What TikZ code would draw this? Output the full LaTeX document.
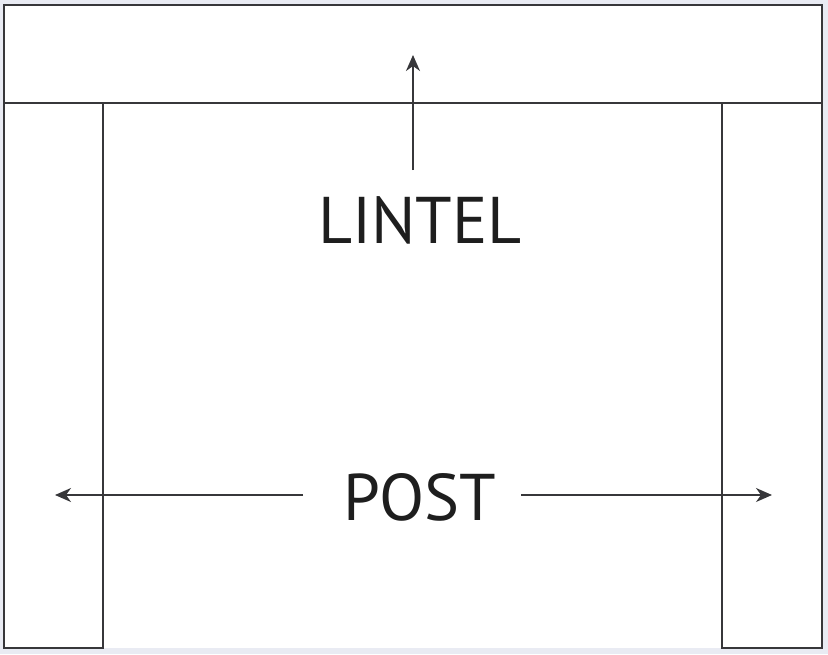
\documentclass[tikz,border=0pt]{standalone}
\usepackage{fontspec}
\setmainfont{PT Sans}
\usetikzlibrary{arrows.meta}
\definecolor{bgc}{RGB}{233,235,243}
\definecolor{linec}{RGB}{55,55,58}
\definecolor{textc}{RGB}{30,30,30}
\tikzset{
  part/.style={draw=linec, line width=1.4pt, fill=white, inner sep=0pt, outer sep=0pt, anchor=north west},
  pointer/.style={draw=linec, line width=1.5pt, arrows={-Stealth[length=16pt, width=14pt, inset=5pt]}},
  label/.style={text=textc, font=\fontsize{66}{70}\selectfont, inner sep=0pt}
}
\begin{document}
\begin{tikzpicture}
\begin{scope}[x=1pt,y=-1pt]
\fill[bgc] (0,0) rectangle (828,654);
\fill[white] (4,5) rectangle (822,648);
\node[part, minimum width=818pt, minimum height=98pt] (lintel) at (4,5) {};
\node[part, minimum width=99pt, minimum height=545pt] (leftpost) at (4,103) {};
\node[part, minimum width=100pt, minimum height=545pt] (rightpost) at (722,103) {};
\draw[linec, line width=2.2pt] (4,5) -- (822,5) -- (822,648) -- (722,648) (103,648) -- (4,648) -- cycle;
\node[label] (lintellabel) at (420,220) {LINTEL};
\node[label] (postlabel) at (420,497) {POST};
\coordinate (upstart) at (413,170);
\coordinate (uptip) at (413,55);
\coordinate (leftstart) at (303,495);
\coordinate (lefttip) at (55,495);
\coordinate (rightstart) at (521,495);
\coordinate (righttip) at (772,495);
\end{scope}
\useasboundingbox (0pt,0pt) rectangle (828pt,-654pt);
\draw[pointer] (upstart) -- (uptip);
\draw[pointer] (leftstart) -- (lefttip);
\draw[pointer] (rightstart) -- (righttip);
\end{tikzpicture}
\end{document}
